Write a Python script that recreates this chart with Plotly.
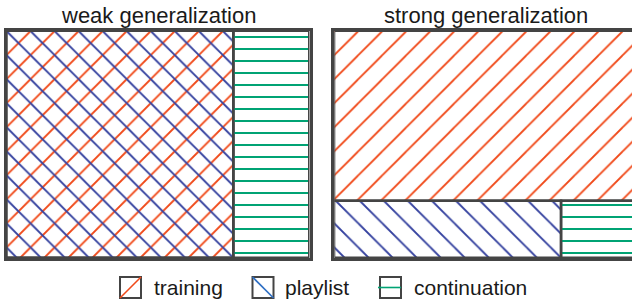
import plotly.graph_objects as go

# Data: fraction of playlists (rows) and tracks (columns) in each split
panels = ["weak generalization", "strong generalization"]
series = ["training", "playlist", "continuation"]
track_split = 0.75          # fraction of each test playlist's tracks given as seed
weak_playlist_frac = [1.0, 1.0, 1.0]       # training, playlist, continuation (rows)
strong_playlist_frac = [0.75, 0.25, 0.25]  # training rows, test rows, test rows

colors = {"training": "#f04a1a", "playlist": "#35429f", "continuation": "#00a374"}
legend_colors = {"training": "#f04a1a", "playlist": "#2f6fc4", "continuation": "#00a374"}
shapes = {"training": "/", "playlist": "\\", "continuation": "-"}
sizes = {"training": 17, "playlist": 17, "continuation": 12}
solid = {"training": 0.11, "playlist": 0.11, "continuation": 0.17}
edge = "#444444"

fig = go.Figure()


def add_bar(name, x0, x1, y0, y1, xa, ya):
    fig.add_trace(go.Bar(
        x=[(x0 + x1) / 2], width=[x1 - x0], y=[y1 - y0], base=[y0],
        name=name, legendgroup=name, showlegend=False,
        xaxis=xa, yaxis=ya,
        marker=dict(color="rgba(255,255,255,0)",
                    line=dict(color=edge, width=2.5),
                    pattern=dict(shape=shapes[name], fgcolor=colors[name],
                                 bgcolor="rgba(255,255,255,0)",
                                 size=sizes[name], solidity=solid[name],
                                 fillmode="replace")),
        hoverinfo="name",
    ))


# weak generalization: all playlists, first part training+playlist, rest continuation
add_bar("training", 0, track_split, 0, weak_playlist_frac[0], "x", "y")
add_bar("playlist", 0, track_split, 0, weak_playlist_frac[1], "x", "y")
add_bar("continuation", track_split, 1, 0, weak_playlist_frac[2], "x", "y")

# strong generalization: disjoint playlists
add_bar("training", 0, 1, 1 - strong_playlist_frac[0], 1, "x2", "y2")
add_bar("playlist", 0, track_split, 0, strong_playlist_frac[1], "x2", "y2")
add_bar("continuation", track_split, 1, 0, strong_playlist_frac[2], "x2", "y2")

W, H = 632, 304
px = lambda v: v / W
py = lambda v: 1 - v / H
ytop, ybot = py(31), py(258)
ax = dict(showgrid=False, zeroline=False, showticklabels=False, ticks="",
          showline=True, linecolor=edge, linewidth=2.5, fixedrange=True)

# custom legend (icons + labels)
legend_boxes = [120, 252.5, 380]
legend_text_x = [151.5, 283, 411.5]
lshapes, lannots = [], []
for name, bx, tx in zip(series, legend_boxes, legend_text_x):
    x0, x1, y0, y1 = bx, bx + 21, 277, 298
    lshapes.append(dict(type="rect", xref="paper", yref="paper",
                        x0=px(x0), x1=px(x1), y0=py(y1), y1=py(y0),
                        line=dict(color=edge, width=2), fillcolor="white"))
    if name == "training":
        lx0, ly0, lx1, ly1 = x0, y1, x1, y0
    elif name == "playlist":
        lx0, ly0, lx1, ly1 = x0, y0, x1, y1
    else:
        lx0, ly0, lx1, ly1 = x0 - 2, (y0 + y1) / 2, x1, (y0 + y1) / 2
    lshapes.append(dict(type="line", xref="paper", yref="paper",
                        x0=px(lx0), y0=py(ly0), x1=px(lx1), y1=py(ly1),
                        line=dict(color=legend_colors[name], width=1.6)))
    lannots.append(dict(text=name, x=px(tx), y=py(287), xref="paper", yref="paper",
                        showarrow=False, xanchor="left", yanchor="middle",
                        font=dict(size=21, color="#1a1a1a")))

fig.update_layout(
    width=W, height=H,
    margin=dict(l=0, r=0, t=0, b=0),
    paper_bgcolor="white", plot_bgcolor="white",
    barmode="overlay", bargap=0, showlegend=False,
    font=dict(family="Liberation Sans, Arial, sans-serif", size=16, color="#1a1a1a"),
    xaxis=dict(domain=[px(6.5), px(309.5)], range=[0, 1], mirror=True, **ax),
    yaxis=dict(domain=[ybot, ytop], range=[0, 1], mirror=True, **ax),
    xaxis2=dict(domain=[px(334.3), 1], range=[0, (W - 334.3) / 303], anchor="y2",
                mirror=True, **ax),
    yaxis2=dict(domain=[ybot, ytop], range=[0, 1], anchor="x2", mirror=False, **ax),
    shapes=lshapes,
    annotations=[
        dict(text=panels[0], x=px(158.3), y=py(16), xref="paper", yref="paper",
             showarrow=False, font=dict(size=22), xanchor="center", yanchor="middle"),
        dict(text=panels[1], x=px(485.8), y=py(16), xref="paper", yref="paper",
             showarrow=False, font=dict(size=22), xanchor="center", yanchor="middle"),
    ] + lannots,
)

fig.write_html("out.html", config={"displayModeBar": False},
               post_script="document.body.style.margin='0';")
